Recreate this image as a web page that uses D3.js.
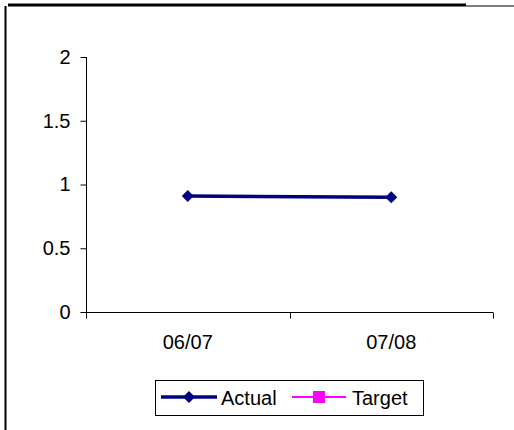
<!DOCTYPE html>
<html><head><meta charset="utf-8">
<script src="https://cdn.jsdelivr.net/npm/d3@7"></script>
<style>body{margin:0;background:#fff}svg{display:block}text{font-family:"Liberation Sans",Arial,sans-serif}</style>
</head><body>
<script>
const categories = ["06/07", "07/08"];
const actual = [0.91, 0.90];
const target = [];
const yTicks = [0, 0.5, 1, 1.5, 2];
const seriesNames = ["Actual", "Target"];

const W = 514, H = 430, FS = 20;
const svg = d3.select("body").append("svg").attr("width", W).attr("height", H);

// frame
svg.append("line").attr("x1", 8).attr("x2", 466).attr("y1", 5).attr("y2", 5).attr("stroke", "#000").attr("stroke-width", 3);
svg.append("line").attr("x1", 466).attr("x2", 514).attr("y1", 6).attr("y2", 6).attr("stroke", "#000").attr("stroke-width", 1);
svg.append("line").attr("x1", 5.5).attr("x2", 5.5).attr("y1", 6).attr("y2", 430).attr("stroke", "#000").attr("stroke-width", 2);

const x0 = 86, x1 = 493, yTop = 57, yBot = 312;
const x = d3.scaleBand().domain(categories).range([x0, x1]);
const y = d3.scaleLinear().domain([0, 2]).range([yBot, yTop]);

const yAxis = svg.append("g").attr("transform", `translate(${x0 + 0.5},0)`)
  .call(d3.axisLeft(y).tickValues(yTicks).tickSize(6).tickPadding(10).tickFormat(d => d3.format("")(d)));
yAxis.selectAll("text").attr("font-size", FS).attr("fill", "#000");
yAxis.selectAll("line,path").attr("stroke", "#000");
yAxis.select(".domain").attr("d", `M0,${yTop}V${yBot}`);

const xAxisG = svg.append("g").attr("transform", `translate(0,${yBot + 0.5})`);
xAxisG.append("line").attr("x1", x0).attr("x2", x1).attr("stroke", "#000");
const bounds = [x0].concat(categories.map(c => x(c) + x.bandwidth()));
xAxisG.selectAll(".tk").data(bounds).join("line").attr("class", "tk")
  .attr("x1", d => Math.round(d) + 0.5).attr("x2", d => Math.round(d) + 0.5).attr("y1", 0).attr("y2", 6).attr("stroke", "#000");
xAxisG.selectAll(".lbl").data(categories).join("text").attr("class", "lbl")
  .attr("x", d => x(d) + x.bandwidth() / 2).attr("y", 36).attr("text-anchor", "middle")
  .attr("font-size", FS).attr("fill", "#000").text(d => d);

const cx = d => x(d) + x.bandwidth() / 2;
const line = d3.line().x((d, i) => cx(categories[i])).y(d => y(d));
svg.append("path").datum(actual).attr("d", line).attr("fill", "none").attr("stroke", "#000080").attr("stroke-width", 3.5);
svg.selectAll(".pt").data(actual).join("path").attr("class", "pt")
  .attr("d", d3.symbol().type(d3.symbolSquare).size(72))
  .attr("transform", (d, i) => `translate(${cx(categories[i])},${y(d)}) rotate(45)`)
  .attr("fill", "#000080");
svg.append("path").datum(target).attr("d", d => d.length ? line(d) : null).attr("fill", "none").attr("stroke", "#ff00ff").attr("stroke-width", 2);

// legend
const lg = svg.append("g");
lg.append("rect").attr("x", 155.5).attr("y", 380.5).attr("width", 268).attr("height", 35).attr("fill", "#fff").attr("stroke", "#000");
const ly = 397;
lg.append("line").attr("x1", 161).attr("x2", 217).attr("y1", ly).attr("y2", ly).attr("stroke", "#000080").attr("stroke-width", 3.5);
lg.append("path").attr("d", d3.symbol().type(d3.symbolSquare).size(72)).attr("transform", `translate(189,${ly}) rotate(45)`).attr("fill", "#000080");
lg.append("text").attr("x", 221).attr("y", 405).attr("font-size", FS).text(seriesNames[0]);
lg.append("line").attr("x1", 292).attr("x2", 346).attr("y1", ly).attr("y2", ly).attr("stroke", "#ff00ff").attr("stroke-width", 2);
lg.append("rect").attr("x", 313).attr("y", ly - 6).attr("width", 12).attr("height", 12).attr("fill", "#ff00ff");
lg.append("text").attr("x", 352).attr("y", 405).attr("font-size", FS).text(seriesNames[1]);
</script>
</body></html>
